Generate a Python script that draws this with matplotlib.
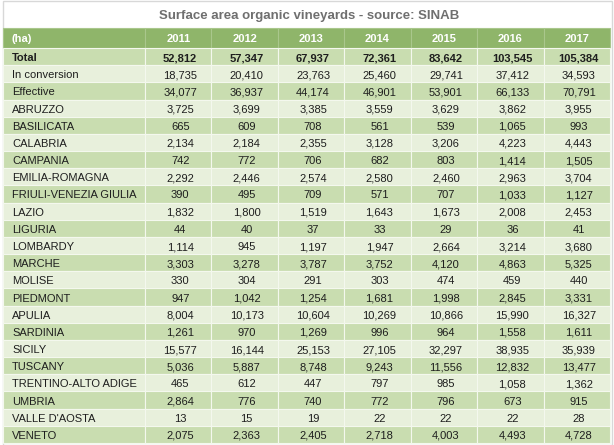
import matplotlib.pyplot as plt
from matplotlib.patches import Rectangle

plt.rcParams['font.family'] = ['Liberation Sans', 'DejaVu Sans']

# Data (hectares)
title = "Surface area organic vineyards - source: SINAB"
years = ["2011", "2012", "2013", "2014", "2015", "2016", "2017"]
rows = ["Total", "In conversion", "Effective", "ABRUZZO", "BASILICATA", "CALABRIA",
        "CAMPANIA", "EMILIA-ROMAGNA", "FRIULI-VENEZIA GIULIA", "LAZIO", "LIGURIA",
        "LOMBARDY", "MARCHE", "MOLISE", "PIEDMONT", "APULIA", "SARDINIA", "SICILY",
        "TUSCANY", "TRENTINO-ALTO ADIGE", "UMBRIA", "VALLE D'AOSTA", "VENETO"]
values = [
    [52812, 57347, 67937, 72361, 83642, 103545, 105384],
    [18735, 20410, 23763, 25460, 29741, 37412, 34593],
    [34077, 36937, 44174, 46901, 53901, 66133, 70791],
    [3725, 3699, 3385, 3559, 3629, 3862, 3955],
    [665, 609, 708, 561, 539, 1065, 993],
    [2134, 2184, 2355, 3128, 3206, 4223, 4443],
    [742, 772, 706, 682, 803, 1414, 1505],
    [2292, 2446, 2574, 2580, 2460, 2963, 3704],
    [390, 495, 709, 571, 707, 1033, 1127],
    [1832, 1800, 1519, 1643, 1673, 2008, 2453],
    [44, 40, 37, 33, 29, 36, 41],
    [1114, 945, 1197, 1947, 2664, 3214, 3680],
    [3303, 3278, 3787, 3752, 4120, 4863, 5325],
    [330, 304, 291, 303, 474, 459, 440],
    [947, 1042, 1254, 1681, 1998, 2845, 3331],
    [8004, 10173, 10604, 10269, 10866, 15990, 16327],
    [1261, 970, 1269, 996, 964, 1558, 1611],
    [15577, 16144, 25153, 27105, 32297, 38935, 35939],
    [5036, 5887, 8748, 9243, 11556, 12832, 13477],
    [465, 612, 447, 797, 985, 1058, 1362],
    [2864, 776, 740, 772, 796, 673, 915],
    [13, 15, 19, 22, 22, 22, 28],
    [2075, 2363, 2405, 2718, 4003, 4493, 4728],
]

# layout in pixels
W, H = 614, 445
left, label_w = 3, 142
col_w = (610 - left - label_w) / len(years)
head_top, head_h = 28, 20
row_h = (443 - head_top - head_h) / len(rows)

header_col = '#8fb56a'
dark_row = '#c9ddb0'
light_row = '#e8f0dc'
sep = '#f4f8ee'

fig = plt.figure(figsize=(W / 100, H / 100), dpi=100)
ax = fig.add_axes([0, 0, 1, 1])
ax.set_xlim(0, W)
ax.set_ylim(H, 0)
ax.axis('off')

# outer frame
ax.add_patch(Rectangle((2.5, 0.5), 609, 444, fill=False, edgecolor='#d8d8d8', lw=1))

ax.text(W / 2 + 2, 14, title, ha='center', va='center_baseline', fontsize=9.5,
        fontweight='bold', color='#6f6f6f')

col_x = [left] + [left + label_w + i * col_w for i in range(len(years))]
col_wd = [label_w] + [col_w] * len(years)

# header
for x0, w in zip(col_x, col_wd):
    ax.add_patch(Rectangle((x0, head_top), w, head_h, facecolor=header_col,
                           edgecolor='#a9c78c', lw=0.8))
ax.text(left + 9, head_top + head_h / 2 + 0.5, "(ha)", ha='left', va='center_baseline',
        fontsize=8, fontweight='bold', color='white')
for j, yr in enumerate(years):
    ax.text(col_x[j + 1] + col_w / 2, head_top + head_h / 2 + 0.5, yr, ha='center',
            va='center_baseline', fontsize=8, fontweight='bold', color='white')

# body
for i, (name, vals) in enumerate(zip(rows, values)):
    y0 = head_top + head_h + i * row_h
    fc = dark_row if i % 2 == 0 else light_row
    for x0, w in zip(col_x, col_wd):
        ax.add_patch(Rectangle((x0, y0), w, row_h, facecolor=fc, edgecolor=sep, lw=0.8))
    weight = 'bold' if name == "Total" else 'normal'
    yc = y0 + row_h / 2 + 0.5
    ax.text(left + 9, yc, name, ha='left', va='center_baseline', fontsize=8,
            fontweight=weight, color='#1e1e1e')
    for j, v in enumerate(vals):
        ax.text(col_x[j + 1] + col_w / 2 + 2, yc, f"{v:,}", ha='center',
                va='center_baseline', fontsize=8, fontweight=weight, color='#1e1e1e')

fig.savefig('out.png', dpi=100)
